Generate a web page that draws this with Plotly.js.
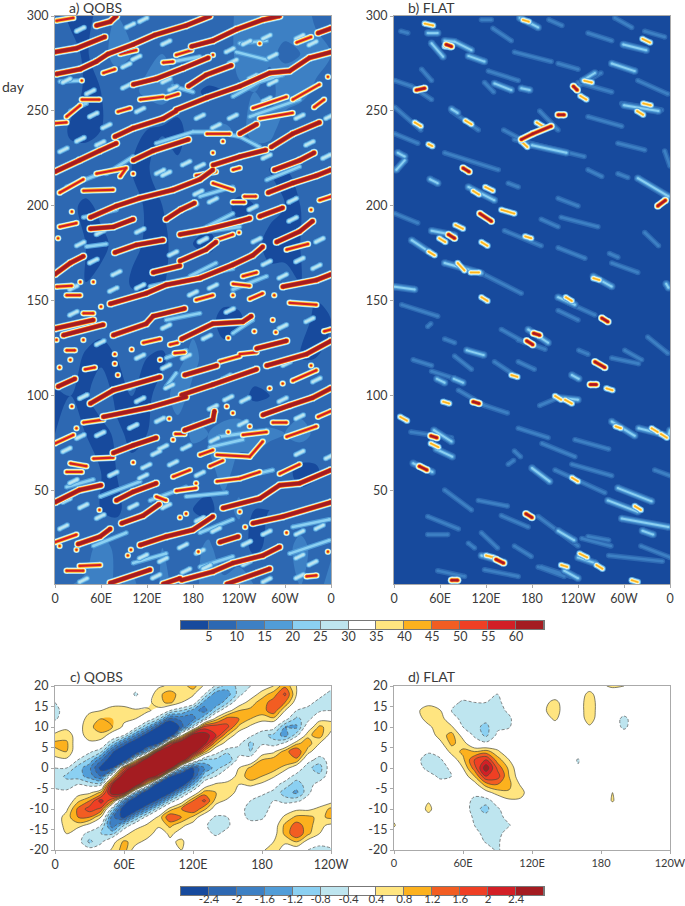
<!DOCTYPE html>
<html><head><meta charset="utf-8">
<script src="https://cdn.plot.ly/plotly-3.0.1.min.js"></script>
<style>html,body{margin:0;padding:0;background:#fff}</style></head>
<body><div id="chart" style="width:685px;height:906px"></div>
<script>
// ---------- palette / levels ----------
const bandColors = ['#174a9d','#2d68b2','#3d80c4','#519dd8','#8bd0f2','#bee5ef','#ffffff','#ffe580','#fcb11e','#f25d22','#ef3f24','#d21f26','#a41c21'];
const topLevels = ['5','10','15','20','25','30','35','40','45','50','55','60'];
const bottomLevels = ['-2.4','-2','-1.6','-1.2','-0.8','-0.4','0.4','0.8','1.2','1.6','2','2.4'];
const lonTicks = ['0','60E','120E','180','120W','60W','0'];
const lonTickVals = [0,60,120,180,240,300,360];
const lonTicksShort = ['0','60E','120E','180','120W'];
const lonTickValsShort = [0,60,120,180,240];

// ---------- panel a background (lon by 20, day by 20, from day 300 down) ----------
const bgLon = [0,20,40,60,80,100,120,140,160,180,200,220,240,260,280,300,320,340,360];
const bgDay = [300,280,260,240,220,200,180,160,140,120,100,80,60,40,20,0];
const bgA = [
[7,4,3,7,10,9,7,8,9,10,7,8,11,10,10,12,13,9,8],
[10,7,4,9,11,10,9,10,8,7,10,6,12,13,11,9,10,12,10],
[8,8,4,5,8,9,11,13,9,6,4,5,9,10,8,13,12,9,8],
[9,4,3,5,8,9,5,4,3,8,10,11,9,11,12,7,5,10,9],
[8,8,9,8,9,5,4,10,6,7,5,6,8,8,5,5,8,7,9],
[9,6,4,6,5,8,4,5,9,10,7,6,4,5,6,5,5,6,7],
[6,8,5,4,6,7,4,3,8,5,4,6,7,6,4,3,5,7,6],
[9,6,5,6,10,4,3,4,9,8,8,7,8,6,6,7,5,6,9],
[7,5,9,6,9,10,9,9,6,8,6,4,4,8,8,8,7,4,5],
[8,8,4,4,5,10,5,4,8,12,7,6,9,8,10,7,5,5,7],
[4,5,4,8,4,5,4,7,13,8,6,8,7,4,5,8,7,6,8],
[5,7,5,3,6,4,5,9,7,11,10,11,12,11,11,10,12,9,10],
[6,5,6,5,5,6,7,8,10,7,8,12,8,9,6,7,3,4,8],
[8,10,9,5,4,7,8,8,6,5,3,8,11,5,5,5,8,9,7],
[5,9,8,12,9,6,7,10,9,7,12,5,7,4,6,9,11,9,9],
[8,10,11,13,9,12,6,11,9,8,13,12,13,10,6,7,10,8,12]];

// ---------- panel a streaks: each is [[lon,day],...] ----------
const hotA = [
[[0,281],[28,283],[65,289]],
[[2,269.5],[33,272],[54,276],[69,280],[102,285],[130,290],[171,295],[202,300]],
[[54,295],[72,297],[80,300]],
[[178,284],[206,287],[237,293],[271,298],[293,300]],
[[102,264],[132,267],[167,272.5],[200,278]],
[[174,263],[197,269],[230,274]],
[[158,250.5],[198,257],[241,263],[280,270],[306,271],[332,278],[360,281]],
[[78,236.5],[102,241],[141,246],[158,250]],
[[0,218],[32,224],[58,229],[80,233]],
[[102,224],[128,229],[174,235]],
[[206,221.5],[241,226],[275,229.5]],
[[282,231],[310,238],[345,244]],
[[241,238],[263,243]],
[[286,219],[319,224],[338,228]],
[[278,207],[310,212],[341,216],[360,219]],
[[46,194],[80,200],[110,204],[154,208.5],[189,214],[206,219]],
[[145,193],[164,198],[182,201.5]],
[[46,188],[76,189],[102,193]],
[[163,185],[197,187.5],[241,192],[254,193.5]],
[[267,194.5],[297,199]],
[[289,181],[319,186.5],[336,192]],
[[78,175.5],[106,179.5],[141,182]],
[[163,171],[197,177],[210,181]],
[[128,165],[163,168.5]],
[[0,164],[20,170],[37,173.5]],
[[72,148.5],[119,154],[145,158.5],[189,162],[232,169],[258,174],[271,178.5]],
[[297,157.5],[341,161],[360,164]],
[[343,291],[360,293.5]],
[[0,135.5],[50,140]],
[[11,132],[63,137.5]],
[[76,132],[119,138],[128,142],[169,146]],
[[165,130],[206,138],[245,139],[256,142]],
[[263,125],[302,129]],
[[276,116],[328,122],[360,129]],
[[169,111],[211,116]],
[[165,100.5],[206,106],[263,114]],
[[4,105],[26,109]],
[[46,96],[76,103],[137,110]],
[[63,89],[124,94],[171,99.5]],
[[76,70],[102,74],[132,78]],
[[169,82],[206,87.5],[208,92]],
[[271,90],[306,95],[336,99],[360,104]],
[[0,44],[32,50.5],[60,53]],
[[80,45],[102,49.5],[132,54]],
[[87,33],[115,37],[136,43]],
[[111,21.5],[145,26],[180,29.5],[206,36.5]],
[[219,41],[267,46],[293,53],[319,54],[360,61]],
[[258,33],[297,36.5],[360,44]],
[[215,23],[239,26]],
[[165,3],[206,7.5],[232,12],[271,16],[293,20.5]],
[[72,1.5],[124,8.5]],
[[141,1],[163,4]],
[[224,1],[280,9]],
[[30,22],[59,26],[72,30]]
];
const warmA = [
[[2,297.5],[24,299]],[[0,243.5],[15,244]],[[37,86],[63,87.5]],[[0,23],[28,27]],
[[189,69],[206,71.5]],[[211,69],[254,68],[271,76]],[[302,78.5],[341,84]],[[343,89],[360,92]],
[[202,63],[219,66]],[[211,55],[241,56.5],[267,60]],[[293,59],[319,64]],[[154,57.5],[176,61]],
[[0,75],[24,79.5]],[[20,64.5],[41,63]],[[50,67],[76,67.5]],[[15,60],[35,60]],[[132,47],[145,45]],
[[310,108],[341,113.5]],
[[82,249.6],[98,251.5]],[[15,247],[33,253]],[[35,256],[58,256]],[[35,266]],[[63,270],[78,272]],
[[145,257],[161,259]],[[111,256],[141,257.5]],[[158,279.5],[178,282]],[[85,280],[106,282]],
[[141,275.5],[154,276]],[[258,251.5],[302,257.5]],[[310,256],[345,264]],[[267,246],[310,249]],
[[338,252],[351,256]],[[267,285.5]],[[315,286],[334,289]],[[206,279.5]],[[356,268]],
[[198,238],[228,238]],[[206,228]],[[219,234]],[[232,219],[241,220]],[[184,216],[210,218]],
[[206,212],[232,208.5]],[[232,202],[247,202]],[[247,205],[262,205]],[[345,203],[360,205]],[[334,198]],
[[6,207],[37,214]],[[37,208],[76,208.5]],[[54,217],[93,220],[85,215.5]],[[102,217]],[[22,197]],
[[6,189],[28,191]],[[4,183]],[[240,186]],[[210,182],[232,185]],[[302,177],[330,180]],
[[232,159],[254,158]],[[245,163],[263,165]],[[232,153]],[[286,153]],[[254,151],[271,154]],
[[2,157.5],[22,158]],[[15,153],[33,153]],[[33,160]],[[50,160]],[[184,150.5],[206,153]],
[[306,149],[341,148]],
[[60,147]],[[37,143.5],[50,143.5]],[[2,129.5]],[[15,124],[26,124]],[[37,129.5]],[[78,122]],
[[115,128],[137,130]],[[150,127],[160,128]],[[20,119]],[[6,115]],[[39,114],[52,115]],[[78,117]],[[82,111]],
[[137,119]],[[100,124.5]],[[156,122.5],[169,123]],[[226,130.5]],[[260,134]],[[284,140]],[[288,133.5]],
[[351,134],[360,135]],[[215,118],[241,121]],[[241,122],[263,123]],[[334,116]],[[297,106.5]],[[280,104]],
[[232,91]],[[224,94.5]],[[22,94.5]],[[284,86],[302,86]],[[254,84]],[[245,79.5],[276,81]],[[226,81]],
[[157,80],[169,80]],[[154,77]],[[149,88]],[[28,83]],[[102,65]],[[184,54]],[[158,50],[184,51.5]],
[[58,40]],[[171,38]],[[163,36]],[[248,31]],[[241,39]],[[302,28]],[[28,19]],[[6,21]],[[99,19]],[[95,16]],
[[187,18]],[[32,10.5],[59,11]],[[15,8],[37,8]],[[328,5],[341,5.5]],[[356,18]]
];
const paleA = [
[[132,233],[180,239],[206,239],[241,236.5],[267,231]],[[154,263],[180,260]],[[20,250],[41,254]],
[[6.5,265.5],[33,266]],[[241,285.6],[276,287]],[[236.5,281],[276,277]],[[141,275],[189,278.6]],
[[232,257.6],[267,265.4],[297,269]],[[254,247],[319,256]],[[67,217],[102,226]],[[189,205],[232,210]],
[[276,213.7],[319,220.7]],[[193,188],[232,196]],[[37,194],[80,198]],[[124,157.6],[232,167]],
[[176,163],[210,170]],[[232,156],[276,163]],[[41,178.6],[67,180]],[[15,210],[59,217]],[[184,185.6],[241,189]],
[[145,140],[189,143.5]],[[145,120],[171,124]],[[145,105],[158,112]],[[232,133],[258,140]],[[202,73],[245,77]],
[[215,78.6],[276,82]],[[232,56],[284,61]],[[59,47],[111,55]],[[171,47],[224,49]],[[189,28],[232,35]],
[[15,52],[50,56]],[[124,45],[171,52]],[[189,10],[232,15.5]],[[306,17],[358,24]],[[102,12],[145,17]],
[[50,21],[93,28]],[[310,31],[358,35]]
];
const speckA = [
[115,298],[98,295],[33,293],[276,289],[250,286],[284,279],[319,289],[336,285.6],[228,282],[232,276],[145,286],[106,278],[93,274],[145,266],[15,266],[46,260],[93,263],[154,262],[258,268],[284,265],[276,256],[232,247],[210,242],[189,247],[67,242],[111,250.5],[50,248],[319,247],[358,247],[11,229.5],[59,233],[33,235],[145,217],[137,218],[171,222.5],[189,221],[276,226],[332,233],[354,226],[187,207],[180,200],[206,203],[258,199],[310,203],[310,193],[345,182],[111,187],[59,186],[33,180],[50,171],[80,164.6],[111,157.6],[154,175],[193,182],[263,182],[276,170],[319,171.6],[297,163],[341,168],[76,156],[24,157],[180,154],[206,157.6],
[24,143.5],[145,136.5],[228,145],[297,136.5],[332,140],[198,131],[59,128],[111,120.7],[145,115.4],[171,120.7],[224,110],[302,117],[341,108.4],[102,105],[149,105],[37,99.6],[111,98],[226,98.8],[248,98],[297,98],[206,94],[137,87.4],[102,84],[245,85.6],[319,89],[59,80],[33,78.6],[208,77],[171,73],[141,73],[132,70],[15,71.6],[119,63],[154,64.6],[319,70],[358,68],[24,55],[76,59],[115,57.6],[189,59],[267,47],[145,42],[102,42],[37,42],[15,45],[59,36.5],[11,31],[189,35],[210,29.5],[250,22.5],[276,28],[319,28],[345,31],[319,15.5],[189,18],[167,21],[141,13.7],[115,15.5],[198,10],[171,8],[132,5],[37,3],[319,5],[276,3],[250,12],[336,12]
];

// ---------- panel b features ----------
const softB = [
[[129,293.5],[153,287]],[[157,281],[205,276]],[[214,275],[240,272]],[[123,271],[162,266]],
[[1,266],[23,263],[49,256]],[[75,250],[110,240]],[[1,252],[35,240]],[[66,228],[136,219]],[[144,187],[192,179]],
[[214,178],[249,172.5]],[[192,193],[214,189]],[[218,194],[266,189]],[[214,204],[240,200]],[[292,233],[327,229.5]],
[[114,164.6],[166,154]],[[157,235],[248,226]],[[143,240],[166,235]],[[236,262],[270,270]],[[240,265],[284,260]],
[[297,254],[349,250.5]],[[118,265],[130,260]],[[190,250],[214,240]],
[[227,149],[262,142.6]],[[162,129.5],[197,124.6]],[[140,135],[171,128]],[[131,118],[157,111]],[[162,118],[183,114]],
[[25,119],[49,116]],[[49,113],[84,108.5]],[[84,103],[118,95],[148,91]],[[188,36.5],[240,21]],[[214,99],[190,95]],
[[284,120],[319,117]],[[331,131],[357,122.5]],[[162,83],[201,78]],[[22,81],[75,78]],[[66,50.5],[101,40]],
[[245,25],[283,21]],[[280,16],[350,13]],[[210,61],[275,49]],[[114,28],[135,20]],[[188,10],[222,5]],
[[253,291],[284,287]],[[288,299],[310,294]],[[327,292],[353,289]],[[318,266],[357,259]],[[202,298],[219,295]],[[36,272],[49,266]],
[[9,292],[18,291]],[[114,298],[127,298]],[[253,247],[297,242]],[[1,238],[31,233]],[[253,219],[271,215.5]],[[292,217],[305,215]],
[[353,229],[360,221]],[[327,186],[345,179]],[[281,175],[292,173]],[[284,170],[318,165]],[[1,196],[31,191]],[[149,212],[162,210]],
[[10,148],[57,142]],[[214,145],[240,140]],[[44,136.5],[48,138]],[[66,130],[79,128]],[[241,124],[253,122]],[[79,121],[101,114]],
[[301,124],[323,119]],[[149,64],[156,66]],[[236,77],[280,72]],[[193,75],[236,68]],[[232,64],[284,58]],[[157,71],[165,68]],
[[340,61],[360,58]],[[110,45],[148,42]],[[44,36.5],[84,30]],[[140,37],[175,31]],[[44,27],[70,27]],[[157,21],[179,15.5]],
[[253,26],[280,24]],[[322,21],[360,15]],[[97,22.5],[105,20]],[[118,8.5],[162,5]],[[192,10],[231,5]],[[57,8],[92,5]]
];
const paleB = [
[[44,291],[57,291]],[[49,285.6],[64,278.6]],[[66,287],[79,286.5],[101,282]],[[97,279],[118,276]],[[164,299],[188,294]],
[[284,275],[314,271]],[[299,285],[329,282]],[[131,264.5],[153,261]],[[166,262],[177,261]],[[75,251],[83,249]],[[5,228],[14,226]],
[[3,219],[14,224]],[[47,214],[57,212]],[[97,210],[131,203]],[[49,187],[79,184.6]],[[23,182],[49,175]],[[66,170],[114,164.6]],
[[1,157.5],[27,156]],[[260,163],[284,157.6]],[[355,159],[358,157]],[[214,152],[236,148]],[[318,214.6],[358,205]],
[[300,253],[345,250]],[[180,232],[225,228]],[[246,266],[262,270]],
[[175,135],[201,128]],[[95,124],[117,121.5]],[[78,109],[90,107]],[[56,109],[66,107]],[[232,111],[241,109]],[[214,99],[240,98]],[[284,86.5],[314,79]],
[[319,83],[358,79]],[[25,64.5],[50,60]],[[180,62],[203,55]],[[292,51.5],[336,44.5]],[[279,45],[318,39]],
[[297,35.5],[358,31]],[[324,29],[338,27]],[[214,29],[235,24]],[[114,16],[144,12.5]],[[240,15],[262,12]],[[222,8],[240,4]],
[[52,82],[75,76]],[[55,72],[76,68]],[[358,79],[360,82]]
];
const warmB = [
[[40,296],[51,295]],[[168,298],[176,297]],[[324,288],[334,286]],[[66,284],[74,283.5]],[[93,245],[101,243]],[[27,244],[35,242]],[[45,232.5],[50,231.5]],
[[103,208],[111,206]],[[119,210],[129,208]],[[140,198],[157,196]],[[80,190],[90,188]],[[59,183],[67,181]],[[114,181],[122,179]],[[45,176],[53,174]],[[83,170],[92,166]],[[100,165],[111,165]],
[[114,152],[122,150]],[[224,152],[232,150]],[[171,184],[179,183]],[[166,234],[174,231]],[[186,244],[194,242]],[[243,258],[251,256]],[[248,266],[258,265]],[[325,254],[335,253]],[[317,250],[325,248]],
[[260,162],[268,161]],[[277,104],[285,103]],[[64,97],[72,96]],[[210,100],[218,98]],[[223,98],[232,96]],[[153,111],[161,110]],[[289,84],[296,83]],[[8,89],[17,87]],[[48,75],[58,73]],
[[232,57],[240,55]],[[314,42],[322,40]],[[218,11],[226,10]],[[264,11],[272,9]],[[120,16],[130,15]],[[242,17],[252,15]],[[310,3],[318,2]],[[336,83],[344,81]],[[348,80],[356,78]]
];
const hotB = [
[[166,235],[181,238],[205,242]],[[214,248],[222,248]],[[234,263],[239,261]],[[344,200],[354,203]],[[90,220],[98,218]],[[112,196],[127,192]],[[71,185],[79,183]],
[[68,285],[75,284]],[[29,261],[40,262]],[[182,133],[190,132]],[[173,129],[181,127]],[[271,141],[279,139]],[[103,97],[111,96]],[[256,106],[264,106]],[[262,118],[275,115]],
[[48,79],[56,78]],[[33,63],[43,61]],[[172,38],[180,36]],[[133,14],[143,12]],[[75,3],[83,3]]
];

// ---------- panels c, d: columns by longitude, each from lat 20 down to -20 by 2 ----------
const lonGrid = [0,10,20,30,40,50,60,70,80,90,100,110,120,130,140,150,160,170,180,190,200,210,220,230,240];
const latGrid = [20,18,16,14,12,10,8,6,4,2,0,-2,-4,-6,-8,-10,-12,-14,-16,-18,-20];
const colsC = [
[0,.1,-.4,-.6,-.5,.1,.5,.9,.7,.2,-.4,-.5,-.5,-.3,0,.1,.1,0,0,0,0],
[0,0,0,-.1,0,.3,.6,.9,.8,.3,-.4,-.9,-.6,-.3,0,.3,.6,.6,.4,.1,0],
[0,0,0,0,.1,.2,.2,0,0,-.4,-1,-1,-.4,.2,.7,1.3,1.2,.6,-.1,-.2,0],
[0,0,0,.3,.6,.7,.6,.3,-.3,-.9,-1.5,-1.4,-.6,.3,1.2,1.8,1.2,.2,-.6,-.9,-.2],
[0,0,.1,.4,.8,1,.7,.1,-.7,-1.9,-2.6,-2,-.6,.9,2.2,1.5,.4,-.4,-.8,-.5,-.1],
[0,.1,.3,.5,.8,.8,.1,-.9,-2.3,-2.9,-2.4,.2,2.5,2.8,1.2,-.8,-1.9,-1.9,-.9,.2,.5],
[.1,.2,.3,.5,.5,.3,-.4,-2.1,-3.3,-3.3,1.4,3.2,3.7,2.8,-1.6,-3,-2.6,-.8,.1,.9,1],
[-.1,-.5,-.1,.5,.4,-.2,-1.6,-3.1,-3.4,.2,3.5,3.8,3.3,-1,-3.5,-2.9,-1.2,0,.8,.6,.1],
[0,0,.2,.5,0,-1.2,-2.8,-3.5,-1.2,3.2,3.8,3.5,.5,-3.4,-3.2,-1.7,-.2,.5,.7,.2,0],
[.3,.7,.7,.2,-.7,-2.5,-3.5,-2.6,2.8,3.7,3.7,2.1,-3.3,-3.4,-2.2,-.5,.5,.5,.1,-.1,0],
[.5,1,.9,-.4,-2.1,-3.3,-3.3,1.9,3.6,3.7,3,-2.3,-3.5,-2.6,-.8,.6,1.6,.9,.5,.3,.1],
[.6,.6,.4,-.8,-1.9,-2.2,.2,3.5,3.8,3.3,-1,-3.4,-2.9,-1.1,.1,1.2,1.2,.5,.2,.5,.4],
[1,.5,0,-1.4,-1.8,-.6,2.9,3.2,3,.5,-2.4,-2.5,-1.3,-.1,1.2,1.6,.7,.2,0,0,0],
[.3,-.4,-1.4,-1.8,-.8,1.8,2.7,2.6,1,-.9,-1.6,-.9,0,1,1.7,.9,0,-.3,-.2,0,0],
[-.5,-1.5,-1.6,-.8,.6,1.9,2,.9,-.2,-.9,-1,-.4,.5,.8,.6,.1,-.5,-.7,-.5,-.1,.1],
[-1,-1.4,-.9,.2,1.4,1.7,.8,.1,-.7,-1.2,-.4,.2,.5,.7,.3,0,-.4,-.5,-.2,.1,.4],
[-.7,-.6,.1,.8,1.2,.7,.1,-.3,-.6,-.2,.4,.5,.4,.2,-.1,-.2,-.1,0,.1,.2,.2],
[-.4,.1,.6,.9,.8,.3,-.3,-.9,-.8,-.1,.9,1.1,.5,0,-.4,-.6,-.6,-.1,0,0,0],
[.1,.6,1,1,.6,-.1,-.7,-.5,.1,.8,1.1,.8,.3,-.3,-.6,-.8,-.5,-.1,0,0,.3],
[.4,1,1.4,1.5,.7,-.2,-.9,-.7,.3,1,1,.5,-.2,-.5,-.4,-.1,0,.1,.2,.4,.7],
[1.1,1.7,1.2,.4,-.2,-1.2,-1.4,-.3,1,1.2,.6,-.1,-.6,-1,-.6,.1,.5,.9,.9,.5,.1],
[.4,.4,.1,-.4,-.9,-1.3,-.6,.7,1.6,1.1,0,-.6,-1,-1.3,-.5,.3,.9,1.4,1.6,.8,.1],
[0,-.1,-.3,-.5,-.6,0,.7,1,.6,-.2,-.7,-.8,-.6,-.5,-.2,.3,.9,1,.9,.2,-.4],
[-.1,-.3,-.5,-.5,.2,.9,1,.4,-.1,-.6,-1,-.7,-.2,0,.1,.5,.7,.5,.4,-.3,-.5],
[-.3,-.5,-.6,-.4,.3,.6,.2,-.2,-.3,-.2,-.1,-.1,0,.1,.2,.9,.9,.3,0,-.1,-.5]
];
const colsD = [
[0,0,0,0,0,0,0,0,0,0,0,0,0,0,0,0,.3,.45,.2,0,0],
[0,0,0,0,0,0,0,0,0,0,0,0,0,0,0,0,0,0,0,0,0],
[0,0,.2,.35,.2,0,0,0,-.1,-.3,-.2,0,0,0,0,0,0,0,0,0,0],
[0,0,.3,.55,.6,.3,.1,0,-.35,-.6,-.55,-.2,0,0,.35,.55,.2,0,0,0,0],
[0,0,0,.45,.7,.65,.6,.25,-.1,-.5,-.6,-.5,-.2,0,.1,0,0,0,0,0,0],
[0,0,-.2,-.4,-.1,.5,.95,.9,.55,.1,-.3,-.4,-.2,0,0,0,0,0,0,0,0],
[0,-.1,-.5,-.6,-.6,-.4,.2,.6,.9,.7,.4,.1,-.1,0,0,0,0,0,0,0,0],
[0,0,-.4,-.6,-.7,-.7,-.5,-.1,.8,1.6,1.4,.8,.2,-.2,-.6,-.7,-.5,-.4,-.3,-.1,0],
[0,-.3,-.4,-.6,-.7,-.9,-.9,-.3,1,2,2.7,2,1,.2,-.7,-.9,-.7,-.6,-.5,-.45,-.1],
[0,-.4,-.6,-.6,-.6,-.5,-.3,0,.5,1,1.5,1.8,1.2,.6,-.05,-.5,-.6,-.6,-.6,-.5,-.5],
[0,0,0,-.3,-.5,-.45,-.1,0,0,.4,.7,.8,.9,.75,.3,0,-.2,-.45,-.1,0,0],
[0,0,0,0,0,0,0,0,0,0,0,.1,.35,.6,.3,0,0,0,0,0,0],
[0,0,0,0,0,0,0,0,0,0,0,0,0,0,0,0,0,0,0,0,0],
[0,0,.2,.3,.1,0,0,0,0,0,0,0,0,0,0,0,0,0,0,0,0],
[0,0,.6,.7,.5,.05,0,0,0,0,0,0,0,0,0,0,0,0,0,0,0],
[0,0,0,0,0,0,0,0,0,0,0,0,0,0,0,0,0,0,0,0,0],
[0,0,0,0,0,0,0,0,0,-.45,-.35,0,0,0,0,0,0,0,0,0,0],
[0,.6,.8,.8,.7,.3,0,0,0,0,0,0,0,0,0,0,0,0,0,0,0],
[.3,0,0,0,0,0,0,0,0,0,0,0,0,0,0,0,0,0,0,0,0],
[.5,0,0,0,0,0,0,0,0,0,0,0,0,.4,.45,0,0,0,0,0,0],
[.4,0,0,0,-.6,-.55,0,0,0,0,0,0,0,0,0,0,0,0,0,0,0],
[0,0,0,0,0,0,0,0,0,0,0,0,0,0,0,0,0,0,0,0,0],
[0,0,0,0,0,0,0,0,0,0,0,0,0,0,0,0,0,0,0,0,0],
[0,0,0,0,0,0,0,0,0,0,0,0,0,0,0,0,0,0,0,0,0],
[0,0,0,0,0,0,0,0,0,0,0,0,0,0,0,0,0,0,0,0,0]
];

// ---------- helpers ----------
const W=685,H=906;
const domX=(a,b)=>[a/W,b/W];
const domY=(a,b)=>[1-b/H,1-a/H];
function stepped(cols){const n=cols.length,s=[];cols.forEach((c,i)=>{s.push([i/n,c]);s.push([(i+1)/n,c]);});return s;}
const traces=[];
function layer(list,xa,ya,specs){
  for(const [w,c] of specs){
    const x=[],y=[];
    for(const seg of list){for(const p of seg){x.push(p[0]);y.push(p[1]);}x.push(null);y.push(null);}
    traces.push({type:'scatter',mode:'lines+markers',x,y,xaxis:xa,yaxis:ya,hoverinfo:'skip',showlegend:false,
      line:{color:c,width:w,shape:'linear',simplify:false},marker:{color:c,size:w,line:{width:0}}});
  }
}
const [B1,B2,B3,B4,B5,B6,WHT,YEL,ORG,OR2,RED,RD2,DRK]=bandColors;

// panel a
traces.push({type:'contour',x:bgLon,y:bgDay,z:bgA,xaxis:'x',yaxis:'y',hoverinfo:'skip',showscale:false,
  zmin:0,zmax:65,autocontour:false,contours:{start:5,end:60,size:5,coloring:'fill',showlines:false},line:{width:0,smoothing:1},colorscale:stepped(bandColors)});
layer(paleA,'x','y',[[5,B4],[2.6,B5]]);
// each speck is drawn as a short dash along the local streak slant
layer(speckA.map(p=>[[p[0]-5,p[1]-1],[p[0]+5,p[1]+1]]),'x','y',[[5.5,B4],[3.8,B5],[2,B6]]);
layer(warmA,'x','y',[[6.5,B5],[5.2,WHT],[4.4,YEL],[3.4,ORG],[2.2,RD2]]);
layer(hotA,'x','y',[[8,B5],[6.5,WHT],[5.6,YEL],[5,ORG],[4.4,RED],[3.6,DRK]]);

// panel b
layer(softB,'x2','y2',[[5.5,B2],[2.6,B3]]);
layer(paleB,'x2','y2',[[7.5,B2],[5.5,B3],[3.8,B4],[2,B5]]);
layer(warmB,'x2','y2',[[6.5,B4],[5.2,B5],[3.8,WHT],[2.8,YEL],[1.4,ORG]]);
layer(hotB,'x2','y2',[[7.5,B5],[6,WHT],[5,YEL],[3.8,ORG],[3,RD2],[1.6,DRK]]);

// panels c, d
const fill14=[...bandColors.slice(0,7),...bandColors.slice(6)];
function panel(cols,xa,ya){
  const base={type:'contour',x:lonGrid,y:latGrid,z:cols,transpose:true,xaxis:xa,yaxis:ya,hoverinfo:'skip',showscale:false,autocontour:false};
  traces.push({...base,zmin:-2.8,zmax:2.8,contours:{start:-2.4,end:2.4,size:.4,coloring:'fill',showlines:false},line:{width:0,smoothing:1},colorscale:stepped(fill14)});
  traces.push({...base,contours:{start:.4,end:2.4,size:.4,coloring:'none'},line:{color:'#4a4a3a',width:.7,smoothing:1}});
  traces.push({...base,contours:{start:-2.4,end:-.4,size:.4,coloring:'none'},line:{color:'#555',width:.7,dash:'3px,2px',smoothing:1}});
}
panel(colsC,'x3','y3');
panel(colsD,'x4','y4');

// level bars
function bar(xa,ya){
  traces.push({type:'heatmap',x:bandColors.map((c,i)=>i+.5),y:[0],z:[bandColors.map((c,i)=>i+.5)],xaxis:xa,yaxis:ya,
    zmin:0,zmax:13,colorscale:stepped(bandColors),showscale:false,hoverinfo:'skip',xgap:1});
}
bar('x5','y5');
bar('x6','y6');

const tickFont={family:'Lato,sans-serif',size:12.5,color:'#3a3a3a'};
const axBase={showgrid:false,zeroline:false,showline:true,linecolor:'#aaa',linewidth:1,mirror:true,ticks:'outside',ticklen:3,tickcolor:'#aaa',tickfont:tickFont,fixedrange:true,tickangle:0,ticklabeloverflow:'allow'};
const dayVals=[50,100,150,200,250,300], latVals=[-20,-15,-10,-5,0,5,10,15,20];
function xAx(d,vals,txt,range,anchor,size){return {...axBase,domain:d,range,tickmode:'array',tickvals:vals,ticktext:txt,anchor,tickfont:{...tickFont,size:size||tickFont.size}};}
function yAx(d,vals,range,anchor){return {...axBase,domain:d,range,tickmode:'array',tickvals:vals,ticktext:vals.map(String),anchor};}
function barX(d,labels,anchor,standoff,size){const v=labels.map((l,i)=>i+1);return {...axBase,domain:d,range:[0,13],tickmode:'array',tickvals:v,ticktext:labels,ticks:'',ticklabelstandoff:standoff,anchor,linecolor:'#777',tickfont:{...tickFont,size}};}
function barY(d,anchor){return {...axBase,domain:d,range:[-.5,.5],showticklabels:false,ticks:'',anchor,linecolor:'#777'};}
const lab=(text,px,py,size)=>({text,x:px/W,y:1-py/H,xref:'paper',yref:'paper',xanchor:'left',yanchor:'middle',showarrow:false,font:{family:'Lato,sans-serif',size:size||14,color:'#3a3a3a'}});

const layout={width:W,height:H,margin:{l:0,r:0,t:0,b:0},paper_bgcolor:'#fff',plot_bgcolor:B1,showlegend:false,
  xaxis:xAx(domX(55,331),lonTickVals,lonTicks,[0,360],'y'),
  yaxis:yAx(domY(16,584),dayVals,[1,300],'x'),
  xaxis2:xAx(domX(394,670),lonTickVals,lonTicks,[0,360],'y2'),
  yaxis2:yAx(domY(16,584),dayVals,[1,300],'x2'),
  xaxis3:xAx(domX(55,331),lonTickValsShort,lonTicksShort,[0,240],'y3'),
  yaxis3:yAx(domY(686,850),latVals,[-20,20],'x3'),
  xaxis4:xAx(domX(394,670),lonTickValsShort,lonTicksShort,[0,240],'y4',11),
  yaxis4:yAx(domY(686,850),latVals,[-20,20],'x4'),
  xaxis5:barX(domX(181,544),topLevels,'y5',-4,12.5),
  yaxis5:barY(domY(621,629),'x5'),
  xaxis6:barX(domX(181,544),bottomLevels,'y6',-7,11.5),
  yaxis6:barY(domY(887,895),'x6'),
  annotations:[lab('a) QOBS',67,7),lab('b) FLAT',406,7),lab('c) QOBS',68,676),lab('d) FLAT',406,676),lab('day',0,86)]
};
Plotly.newPlot('chart',traces,layout,{displayModeBar:false,staticPlot:true}).then(()=>{
  document.querySelectorAll('.bglayer .bg').forEach((r,i)=>{
    if(i===2||i===3) r.style.fill='#ffffff';
    if(i>=4) r.style.fill='#777777';
  });
});
</script></body></html>
